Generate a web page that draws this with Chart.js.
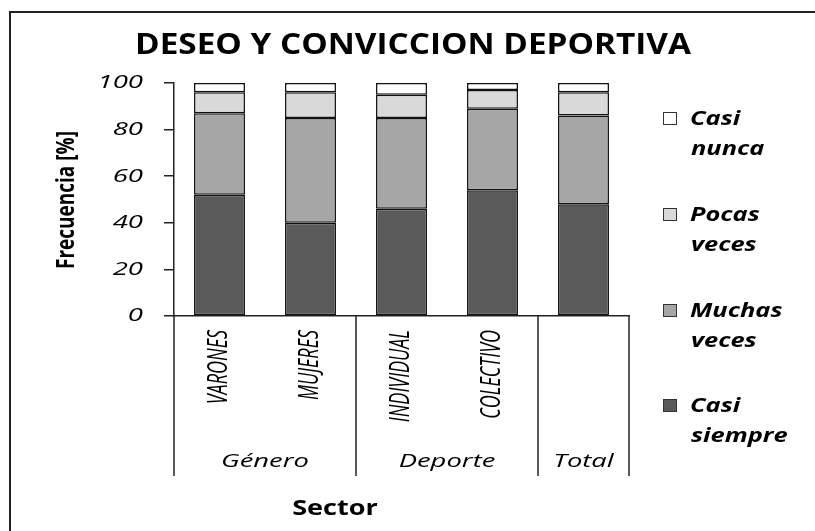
<!DOCTYPE html>
<html>
<head>
<meta charset="utf-8">
<script src="https://cdn.jsdelivr.net/npm/chart.js@4"></script>
<style>
  html, body { margin: 0; padding: 0; background: #fff; }
  #wrap { width: 815px; height: 531px; }
</style>
</head>
<body>
<div id="wrap"><canvas id="chart" width="815" height="531"></canvas></div>
<script>
// ===== Datos =====
const categories = ["VARONES", "MUJERES", "INDIVIDUAL", "COLECTIVO", ""];
const groups = ["Género", "Deporte", "Total"];
const groupSpans = [2, 2, 1];
const yTicks = [0, 20, 40, 60, 80, 100];

const casiSiempre = [52, 40, 46, 54, 48];
const muchasVeces = [35, 45, 39, 35, 38];
const pocasVeces = [9, 11, 10, 8, 10];
const casiNunca = [4, 4, 5, 3, 4];

const seriesNames = ["Casi siempre", "Muchas veces", "Pocas veces", "Casi nunca"];
const seriesColors = ["#5a5a5a", "#a6a6a6", "#d9d9d9", "#ffffff"];
const legendLines = [["Casi", "nunca"], ["Pocas", "veces"], ["Muchas", "veces"], ["Casi", "siempre"]];

const FONT = "'Open Sans', 'DejaVu Sans', sans-serif";

// texto estirado en horizontal (la imagen original esta estirada)
function stretchText(ctx, text, x, y, font, kx, align, baseline, rot) {
  ctx.save();
  ctx.translate(x, y);
  ctx.scale(kx, 1);
  if (rot) ctx.rotate(rot);
  ctx.font = font;
  ctx.textAlign = align;
  ctx.textBaseline = baseline;
  ctx.fillStyle = "#000";
  ctx.fillText(text, 0, 0);
  ctx.restore();
}

const decor = {
  id: "decor",
  beforeDraw(chart) {
    const ctx = chart.ctx;
    ctx.save();
    ctx.fillStyle = "#fff";
    ctx.fillRect(0, 0, chart.width, chart.height);
    // marco
    ctx.strokeStyle = "#222";
    ctx.lineWidth = 2;
    ctx.beginPath();
    ctx.moveTo(10, chart.height);
    ctx.lineTo(10, 12);
    ctx.lineTo(chart.width, 12);
    ctx.stroke();
    ctx.restore();
  },
  afterDraw(chart) {
    const ctx = chart.ctx;
    const x = chart.scales.x, y = chart.scales.y;
    const area = chart.chartArea;

    // titulo
    stretchText(ctx, "DESEO Y CONVICCION DEPORTIVA", 413, 46, `bold 28px ${FONT}`, 1.19, "center", "middle");

    // etiquetas eje Y
    yTicks.forEach(v => {
      stretchText(ctx, String(v), 143, y.getPixelForValue(v), `italic 19px ${FONT}`, 1.45, "right", "middle");
    });
    stretchText(ctx, "Frecuencia [%]", 67, 200, `bold 19px ${FONT}`, 1.3, "center", "middle", -Math.PI / 2);

    // categorias y grupos
    const half = (x.getPixelForValue(1) - x.getPixelForValue(0)) / 2;
    categories.forEach((c, i) => {
      if (c) stretchText(ctx, c, x.getPixelForValue(i), 330, `italic 18px ${FONT}`, 1.5, "right", "middle", -Math.PI / 2);
    });
    ctx.save();
    ctx.strokeStyle = "#222";
    ctx.lineWidth = 1.5;
    let start = 0;
    const bottom = 476;
    ctx.beginPath();
    ctx.moveTo(area.left, area.bottom);
    ctx.lineTo(area.left, bottom);
    groups.forEach((g, gi) => {
      const end = start + groupSpans[gi] - 1;
      const left = x.getPixelForValue(start) - half;
      const right = x.getPixelForValue(end) + half;
      ctx.moveTo(right, area.bottom);
      ctx.lineTo(right, bottom);
      stretchText(ctx, g, (left + right) / 2, 462, `italic 18px ${FONT}`, 1.52, "center", "middle");
      start = end + 1;
    });
    ctx.stroke();
    ctx.restore();

    stretchText(ctx, "Sector", 335, 515, `bold 21px ${FONT}`, 1.29, "center", "alphabetic");

    // leyenda
    const legendBase = [125, 221, 317, 412];
    legendLines.forEach((lines, i) => {
      const b = legendBase[i];
      ctx.save();
      ctx.fillStyle = seriesColors[3 - i];
      ctx.strokeStyle = "#333";
      ctx.lineWidth = 1;
      ctx.fillRect(663.5, b - 12.5, 13, 12);
      ctx.strokeRect(663.5, b - 12.5, 13, 12);
      ctx.restore();
      stretchText(ctx, lines[0], 690, b, `bold italic 20px ${FONT}`, 1.27, "left", "alphabetic");
      stretchText(ctx, lines[1], 691, b + 30, `bold italic 20px ${FONT}`, 1.27, "left", "alphabetic");
    });
  }
};

const dataSeries = [casiSiempre, muchasVeces, pocasVeces, casiNunca];

new Chart(document.getElementById("chart"), {
  type: "bar",
  data: {
    labels: categories,
    datasets: dataSeries.map((d, i) => ({
      label: seriesNames[i],
      data: d,
      backgroundColor: seriesColors[i],
      borderColor: "#111",
      borderWidth: 1.5,
      borderSkipped: false,
      categoryPercentage: 1,
      barPercentage: 0.56
    }))
  },
  options: {
    responsive: false,
    animation: false,
    layout: { padding: { top: 83, right: 186, left: 0, bottom: 0 } },
    plugins: { legend: { display: false }, title: { display: false }, tooltip: { enabled: false } },
    scales: {
      x: {
        stacked: true,
        ticks: { display: false },
        grid: { display: false },
        border: { display: true, color: "#222", width: 1.5 },
        afterFit: s => { s.height = 215; }
      },
      y: {
        stacked: true,
        min: 0,
        max: 100,
        ticks: { display: false, stepSize: 20 },
        grid: { display: true, drawOnChartArea: false, drawTicks: true, tickLength: 10, color: "#222", lineWidth: 1.5 },
        border: { display: true, color: "#222", width: 1.5 },
        afterFit: s => { s.width = 174; }
      }
    }
  },
  plugins: [decor]
});
</script>
</body>
</html>
